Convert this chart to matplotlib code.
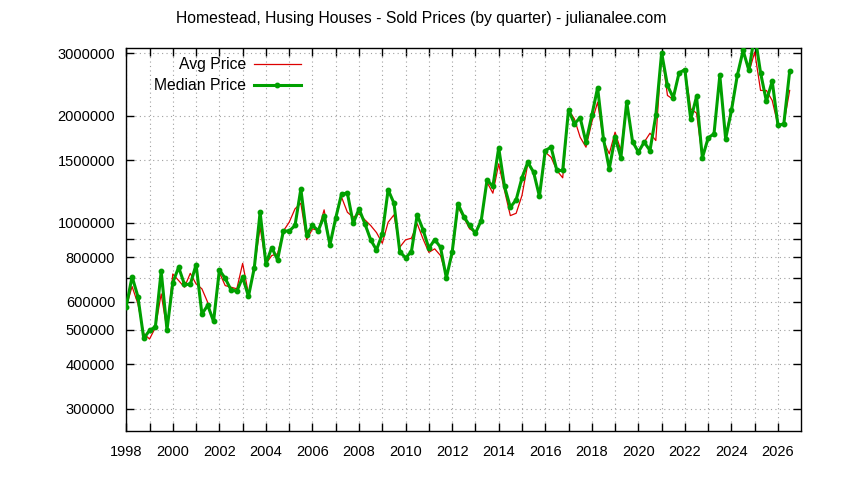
import numpy as np
import matplotlib.pyplot as plt
from matplotlib.ticker import FixedLocator, FixedFormatter, NullLocator

plt.rcParams['font.family'] = ['Liberation Sans', 'DejaVu Sans']

# 四半期ごとのデータ (1998Q1 - 2026Q3)
quarters = np.arange(1998, 2026.51, 0.25)

# 平均価格 (千ドル)
avg_price_k = [
    581, 662, 592, 488, 471, 507, 631, 500, 718, 688,
    659, 721, 673, 652, 597, 525, 725, 666, 659, 652,
    769, 631, 747, 972, 767, 809, 818, 949, 1004, 1095,
    1136, 896, 962, 951, 1088, 867, 1033, 1181, 1071, 1037,
    1060, 1020, 983, 939, 876, 1004, 1053, 854, 896, 905,
    994, 901, 826, 845, 809, 710, 809, 1106, 1035, 962,
    941, 1026, 1301, 1212, 1466, 1233, 1048, 1064, 1194, 1466,
    1388, 1188, 1580, 1530, 1404, 1339, 2081, 1963, 1742, 1633,
    1920, 2186, 1705, 1564, 1800, 1598, 2189, 1694, 1582, 1687,
    1788, 1705, 3012, 2284, 2225, 2645, 2715, 2095, 2036, 1524,
    1735, 1781, 2599, 1742, 2117, 2599, 3057, 2657, 3024, 2359,
    2359, 2211, 1880, 1901, 2359,
]

# 中央値 (千ドル)
median_price_k = [
    581, 706, 620, 473, 498, 509, 731, 500, 679, 750,
    671, 671, 763, 554, 586, 528, 737, 698, 648, 642,
    703, 621, 747, 1071, 767, 852, 787, 949, 948, 983,
    1245, 925, 983, 951, 1048, 867, 1033, 1207, 1212, 997,
    1095, 995, 896, 839, 931, 1239, 1136, 830, 797, 830,
    1053, 956, 848, 897, 854, 700, 826, 1131, 1042, 983,
    935, 1015, 1321, 1266, 1627, 1266, 1106, 1161, 1339, 1481,
    1388, 1188, 1598, 1633, 1404, 1404, 2081, 1901, 1976, 1687,
    2006, 2401, 1724, 1419, 1742, 1527, 2189, 1694, 1582, 1687,
    1598, 2006, 3012, 2437, 2250, 2645, 2698, 1954, 2269, 1524,
    1735, 1781, 2599, 1724, 2072, 2599, 3057, 2685, 3400, 2645,
    2200, 2506, 1880, 1901, 2669,
]

avg_price = np.array(avg_price_k) * 1000
median_price = np.array(median_price_k) * 1000

# 目盛り
ytick_values = [300000, 400000, 500000, 600000, 700000, 800000, 900000,
                1000000, 1500000, 2000000, 3000000]
ytick_labels = ['300000', '400000', '500000', '600000', '', '800000', '',
                '1000000', '1500000', '2000000', '3000000']
xtick_years = list(range(1998, 2027))
xtick_labels = [str(y) if y % 2 == 0 else '' for y in xtick_years]

fig = plt.figure(figsize=(8.44, 4.80), dpi=100)
ax = fig.add_axes([0.1496, 0.1015, 0.7998, 0.7979])

ax.plot(quarters, avg_price, color='#dd0000', lw=0.9, label='Avg Price', zorder=3)
ax.plot(quarters, median_price, color='#00a000', lw=2.2, marker='o', ms=3.2,
        label='Median Price', zorder=4)

ax.set_yscale('log')
ax.set_xlim(1998, 2027)
ax.set_ylim(2.59e5, 3.1e6)

ax.yaxis.set_major_locator(FixedLocator(ytick_values))
ax.yaxis.set_major_formatter(FixedFormatter(ytick_labels))
ax.yaxis.set_minor_locator(NullLocator())
ax.xaxis.set_major_locator(FixedLocator(xtick_years))
ax.xaxis.set_major_formatter(FixedFormatter(xtick_labels))
ax.xaxis.set_minor_locator(NullLocator())

ax.grid(True, which='major', color='#a0a0a0', linestyle=(0, (1, 3)), linewidth=0.8)
ax.tick_params(direction='in', length=6, width=1, top=True, right=True,
               labelsize=10.5, pad=8)
ax.tick_params(axis='x', pad=10)
for sp in ax.spines.values():
    sp.set_linewidth(1)

fig.text(0.4994, 1 - 18 / 480,
         'Homestead, Husing Houses - Sold Prices (by quarter) - julianalee.com',
         ha='center', va='center', fontsize=11.3)

ax.legend(loc='upper right', bbox_to_anchor=(301 / 844, 1 - 57 / 480),
          bbox_transform=fig.transFigure, frameon=False, markerfirst=False,
          fontsize=11.3, handlelength=3.0, handletextpad=0.5,
          labelspacing=0.4, borderpad=0, borderaxespad=0)

plt.savefig('out.png', dpi=100)
